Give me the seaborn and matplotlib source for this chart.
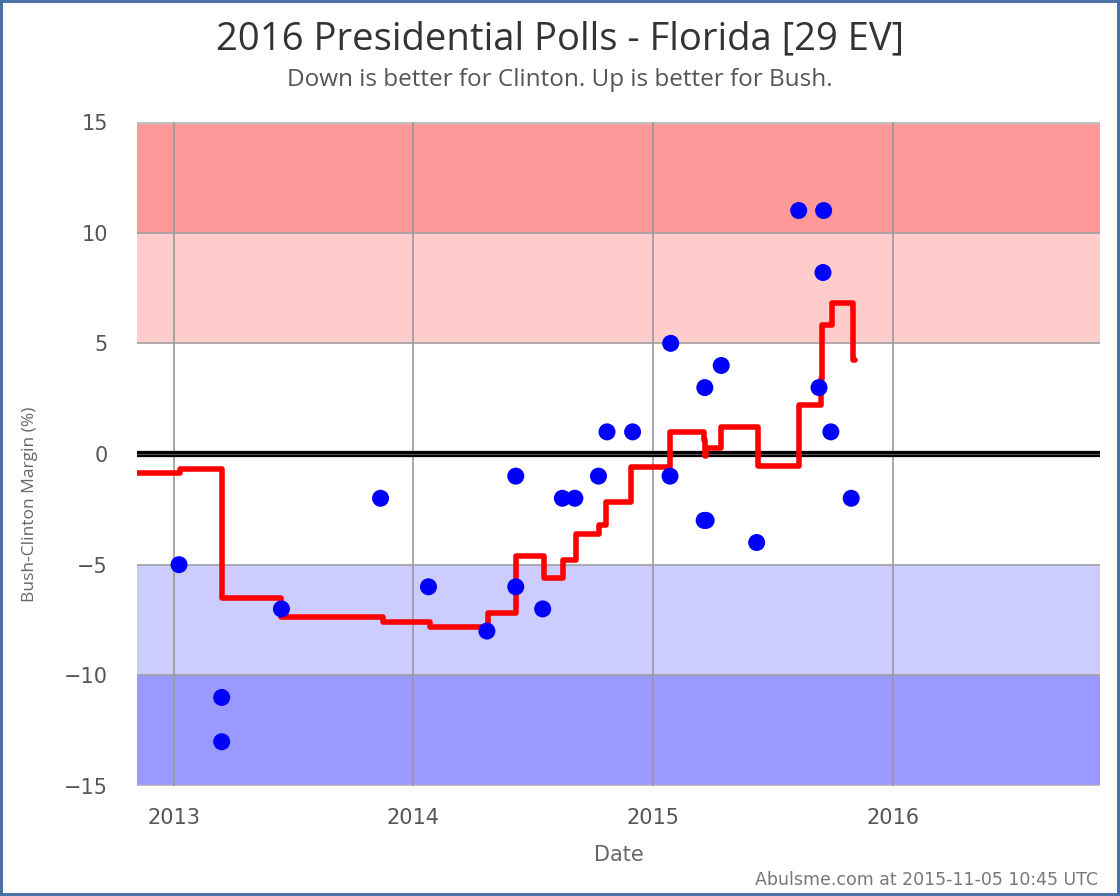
import matplotlib
matplotlib.use("Agg")
import matplotlib.pyplot as plt
import matplotlib.dates as mdates
import seaborn as sns
import pandas as pd
import numpy as np

# Poll data (date, Bush - Clinton margin)
poll_dates = ["2013-01-09", "2013-03-15", "2013-03-15", "2013-06-14", "2013-11-12",
              "2014-01-24", "2014-04-23", "2014-06-06", "2014-06-06", "2014-07-17",
              "2014-08-16", "2014-09-04", "2014-10-10", "2014-10-23", "2014-12-01",
              "2015-01-27", "2015-01-28", "2015-03-20", "2015-03-23", "2015-03-21",
              "2015-04-15", "2015-06-08", "2015-08-11", "2015-09-18", "2015-09-17",
              "2015-09-11", "2015-09-29", "2015-10-30"]
poll_margins = [-5, -11, -13, -7, -2,
                -6, -8, -6, -1, -7,
                -2, -2, -1, 1, 1,
                -1, 5, -3, -3, 3,
                4, -4, 11, 11, 8.2,
                3, 1, -2]

# Running average (step line)
avg_dates = ["2012-11-06", "2013-01-10", "2013-03-16", "2013-06-14", "2013-11-15",
             "2014-01-26", "2014-04-24", "2014-06-07", "2014-07-19", "2014-08-17",
             "2014-09-05", "2014-10-11", "2014-10-22", "2014-11-29", "2015-01-27",
             "2015-03-19", "2015-03-21", "2015-03-23", "2015-04-15", "2015-06-10",
             "2015-08-12", "2015-09-14", "2015-09-16", "2015-10-01", "2015-11-01",
             "2015-11-05"]
avg_margins = [-0.85, -0.7, -6.5, -7.35, -7.6,
               -7.8, -7.2, -4.6, -5.6, -4.8,
               -3.6, -3.2, -2.15, -0.6, 1.0,
               0.63, -0.1, 0.25, 1.23, -0.55,
               2.2, 3.4, 5.85, 6.83, 4.25,
               4.25]

year_ticks = ["2013-01-01", "2014-01-01", "2015-01-01", "2016-01-01"]
year_labels = ["2013", "2014", "2015", "2016"]
y_ticks = [15, 10, 5, 0, -5, -10, -15]

polls = pd.DataFrame({"date": pd.to_datetime(poll_dates), "margin": poll_margins})
avg = pd.DataFrame({"date": pd.to_datetime(avg_dates), "margin": avg_margins})

sns.set_theme(style="white")
plt.rcParams['font.family'] = ['DejaVu Sans']

fig = plt.figure(figsize=(11.2, 8.96), dpi=100)
fig.patch.set_facecolor("white")
fig.patch.set_edgecolor("#4a72a8")
fig.patch.set_linewidth(3)
ax = fig.add_axes([137/1120, 1-786/896, (1100-137)/1120, (786-122)/896])

xmin = pd.Timestamp("2012-11-06")
xmax = pd.Timestamp("2016-11-12")

# Bands
ax.axhspan(10, 15, color="#ff9999", zorder=0, lw=0)
ax.axhspan(5, 10, color="#ffcccc", zorder=0, lw=0)
ax.axhspan(-10, -5, color="#ccccff", zorder=0, lw=0)
ax.axhspan(-15, -10, color="#9999ff", zorder=0, lw=0)
for yv in [10, 5, -5, -10]:
    ax.axhline(yv, color="#a0a0a0", lw=1.2, zorder=1)
for yv in [15, -15]:
    ax.axhline(yv, color="#c0c0c0", lw=2.5, zorder=1)
for d in year_ticks:
    ax.axvline(pd.Timestamp(d), color="#999999", lw=1.2, zorder=1)
ax.axhline(0, color="black", lw=4.5, zorder=2)
ax.axhline(0, color="#555555", lw=0.8, zorder=2)

sns.lineplot(data=avg, x="date", y="margin", ax=ax, color="red", lw=4,
             drawstyle="steps-post", estimator=None, zorder=3,
             solid_capstyle="round", solid_joinstyle="round")
sns.scatterplot(data=polls, x="date", y="margin", ax=ax, color="#0000ff",
                s=150, edgecolor="none", zorder=4)

ax.set_xlim(xmin, xmax)
ax.set_ylim(-15, 15)
ax.set_xticks(pd.to_datetime(year_ticks))
ax.set_xticklabels(year_labels)
ax.set_yticks(y_ticks)
ax.set_yticklabels([str(v) if v >= 0 else "\u2212" + str(-v) for v in y_ticks])
ax.tick_params(axis="both", labelsize=15, colors="#555555", length=0)
ax.tick_params(axis="y", pad=21)
ax.tick_params(axis="x", pad=16)
for s in ax.spines.values():
    s.set_visible(False)

ax.set_xlabel("Date", fontsize=15, color="#666666", labelpad=12)
ax.set_ylabel("Bush-Clinton Margin (%)", fontsize=12.5, color="#666666",
              family="Open Sans")
ax.yaxis.set_label_coords((38 - 137) / 963, (786 - 504) / 664)

fig.text(0.5, 1-39/896, "2016 Presidential Polls - Florida [29 EV]", ha="center", va="center",
         fontsize=27.5, color="#333333", family="Open Sans")
fig.text(0.5, 1-80/896, "Down is better for Clinton. Up is better for Bush.", ha="center",
         va="center", fontsize=17.5, color="#555555", family="Open Sans")
fig.text(1098/1120, 1-880/896, "Abulsme.com at 2015-11-05 10:45 UTC", ha="right", va="center",
         fontsize=12.5, color="#777777")

fig.savefig("out.png", dpi=100, facecolor=fig.get_facecolor(), edgecolor=fig.get_edgecolor())
